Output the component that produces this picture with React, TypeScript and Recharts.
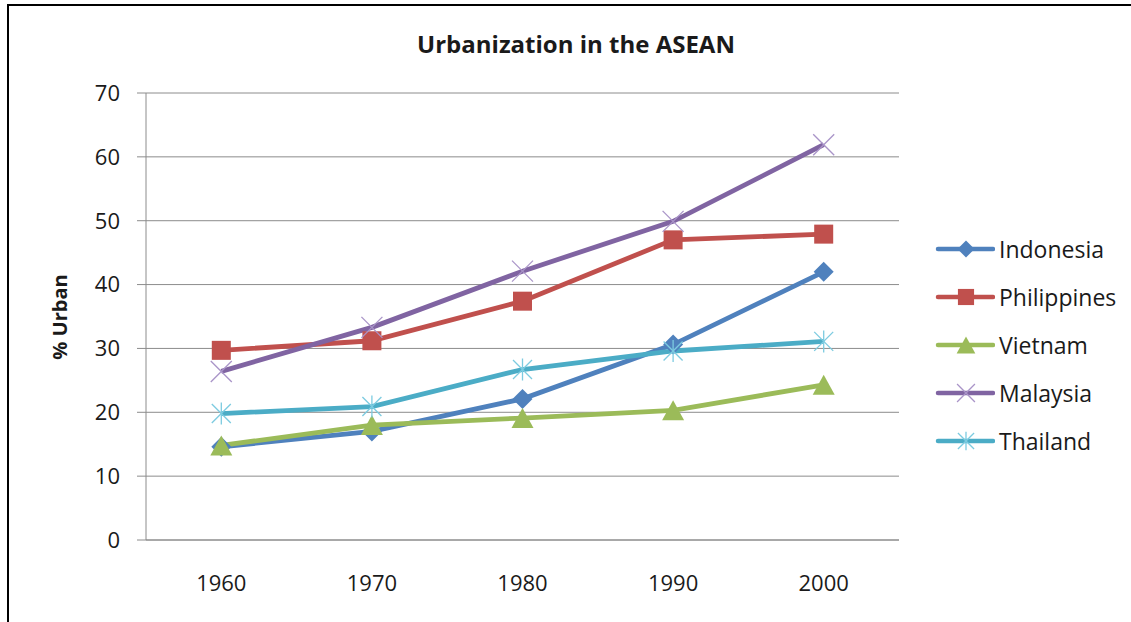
import React from 'react';
import { LineChart, Line, XAxis, YAxis, CartesianGrid, Legend } from 'recharts';

const years = [1960, 1970, 1980, 1990, 2000];
const indonesia = [14.6, 17.0, 22.1, 30.6, 42.0];
const philippines = [29.7, 31.2, 37.4, 47.0, 47.9];
const vietnam = [14.8, 18.0, 19.1, 20.3, 24.3];
const malaysia = [26.4, 33.3, 42.1, 49.9, 61.9];
const thailand = [19.8, 20.9, 26.7, 29.6, 31.1];
const yTicks = [0, 10, 20, 30, 40, 50, 60, 70];
const xBoundaryTicks = [1955, 1965, 1975, 1985, 1995, 2005];
const title = 'Urbanization in the ASEAN';
const yLabel = '% Urban';

type Shape = 'diamond' | 'square' | 'triangle' | 'x' | 'star';
const series: { name: string; values: number[]; color: string; light: string; shape: Shape }[] = [
  { name: 'Indonesia', values: indonesia, color: '#4F81BD', light: '#4F81BD', shape: 'diamond' },
  { name: 'Philippines', values: philippines, color: '#C0504D', light: '#C0504D', shape: 'square' },
  { name: 'Vietnam', values: vietnam, color: '#9BBB59', light: '#9BBB59', shape: 'triangle' },
  { name: 'Malaysia', values: malaysia, color: '#8064A2', light: '#A994C8', shape: 'x' },
  { name: 'Thailand', values: thailand, color: '#4BACC6', light: '#7CCBE0', shape: 'star' },
];

const data = years.map((year, i) => {
  const row: Record<string, number> = { year };
  series.forEach((s) => {
    row[s.name] = s.values[i];
  });
  return row;
});

const FONT = '"Open Sans", sans-serif';
const GRID = '#8C8C8C';

function MarkerShape({ shape, cx, cy, color, light, scale = 1 }: { shape: Shape; cx: number; cy: number; color: string; light: string; scale?: number }) {
  const k = scale;
  switch (shape) {
    case 'diamond': {
      const r = 10 * k;
      return <polygon points={`${cx},${cy - r} ${cx + r},${cy} ${cx},${cy + r} ${cx - r},${cy}`} fill={color} />;
    }
    case 'square': {
      const s = 9.5 * k;
      return <rect x={cx - s} y={cy - s} width={2 * s} height={2 * s} fill={color} />;
    }
    case 'triangle': {
      const w = 11 * k;
      const h = 10 * k;
      return <polygon points={`${cx},${cy - h} ${cx + w},${cy + h} ${cx - w},${cy + h}`} fill={color} />;
    }
    case 'x': {
      const r = 10.5 * k;
      return (
        <g stroke={light} strokeWidth={1.3}>
          <line x1={cx - r} y1={cy - r} x2={cx + r} y2={cy + r} />
          <line x1={cx - r} y1={cy + r} x2={cx + r} y2={cy - r} />
        </g>
      );
    }
    case 'star': {
      const r = 9.5 * k;
      const v = 11 * k;
      return (
        <g stroke={light} strokeWidth={1.3}>
          <line x1={cx - r} y1={cy - r} x2={cx + r} y2={cy + r} />
          <line x1={cx - r} y1={cy + r} x2={cx + r} y2={cy - r} />
          <line x1={cx} y1={cy - v} x2={cx} y2={cy + v} />
        </g>
      );
    }
  }
  return null;
}

function LegendContent() {
  return (
    <div style={{ fontFamily: FONT, fontSize: 23, color: '#1a1a1a' }}>
      {series.map((s) => (
        <div key={s.name} style={{ height: 48, display: 'flex', alignItems: 'center' }}>
          <svg width={60} height={30} style={{ display: 'block' }}>
            <line x1={3} y1={15} x2={58} y2={15} stroke={s.color} strokeWidth={4.5} strokeLinecap="round" />
            <MarkerShape shape={s.shape} cx={31} cy={15} color={s.color} light={s.light} scale={0.85} />
          </svg>
          <span style={{ marginLeft: 4, whiteSpace: 'nowrap' }}>{s.name}</span>
        </div>
      ))}
    </div>
  );
}

export default function App() {
  return (
    <div style={{ position: 'absolute', left: 0, top: 0, width: 1131, height: 622, overflow: 'hidden', background: '#fff' }}>
      <div style={{ position: 'absolute', left: 7, top: 4, width: 1300, height: 800, border: '2px solid #000' }} />
      <div
        style={{
          position: 'absolute',
          left: 0,
          width: 1152,
          top: 32,
          textAlign: 'center',
          fontFamily: FONT,
          fontWeight: 700,
          fontSize: 24,
          lineHeight: '24px',
          color: '#1a1a1a',
          whiteSpace: 'nowrap',
        }}
      >
        {title}
      </div>
      <div style={{ position: 'absolute', left: 0, top: 0 }}>
        <LineChart width={1131} height={622} data={data} margin={{ top: 93, right: 232, bottom: 0, left: 0 }} style={{ fontFamily: FONT }}>
          <CartesianGrid vertical={false} stroke={GRID} strokeWidth={1} />
          <XAxis
            dataKey="year"
            type="number"
            domain={[1955, 2005]}
            ticks={xBoundaryTicks}
            allowDataOverflow
            height={10}
            tick={false}
            tickSize={8}
            stroke={GRID}
            axisLine={{ stroke: GRID }}
            tickLine={{ stroke: GRID }}
          />
          <XAxis
            xAxisId="labels"
            dataKey="year"
            type="number"
            domain={[1955, 2005]}
            ticks={years}
            allowDataOverflow
            height={72}
            axisLine={false}
            tickLine={false}
            tickSize={5}
            tickMargin={20}
            interval={0}
            tick={{ fill: '#1a1a1a', fontSize: 22, fontFamily: FONT }}
          />
          <YAxis
            type="number"
            domain={[0, 70]}
            ticks={yTicks}
            interval={0}
            width={146}
            tickSize={9}
            tickMargin={17}
            axisLine={{ stroke: GRID }}
            tickLine={{ stroke: GRID }}
            tick={{ fill: '#1a1a1a', fontSize: 22, fontFamily: FONT }}
            label={{
              content: () => (
                <text
                  x={59}
                  y={317}
                  transform="rotate(-90 59 317)"
                  textAnchor="middle"
                  dominantBaseline="central"
                  fontFamily={FONT}
                  fontWeight={700}
                  fontSize={20}
                  fill="#1a1a1a"
                >
                  {yLabel}
                </text>
              ),
            }}
          />
          <Legend
            layout="vertical"
            align="center"
            verticalAlign="middle"
            wrapperStyle={{ left: 935, top: 225, width: 196 }}
            content={() => <LegendContent />}
          />
          {series.map((s) => (
            <Line
              key={s.name}
              type="linear"
              dataKey={s.name}
              name={s.name}
              stroke={s.color}
              strokeWidth={4.8}
              isAnimationActive={false}
              activeDot={false}
              dot={(p: any) => (
                <MarkerShape key={`${s.name}-${p.index}`} shape={s.shape} cx={p.cx} cy={p.cy} color={s.color} light={s.light} />
              )}
            />
          ))}
        </LineChart>
      </div>
    </div>
  );
}
